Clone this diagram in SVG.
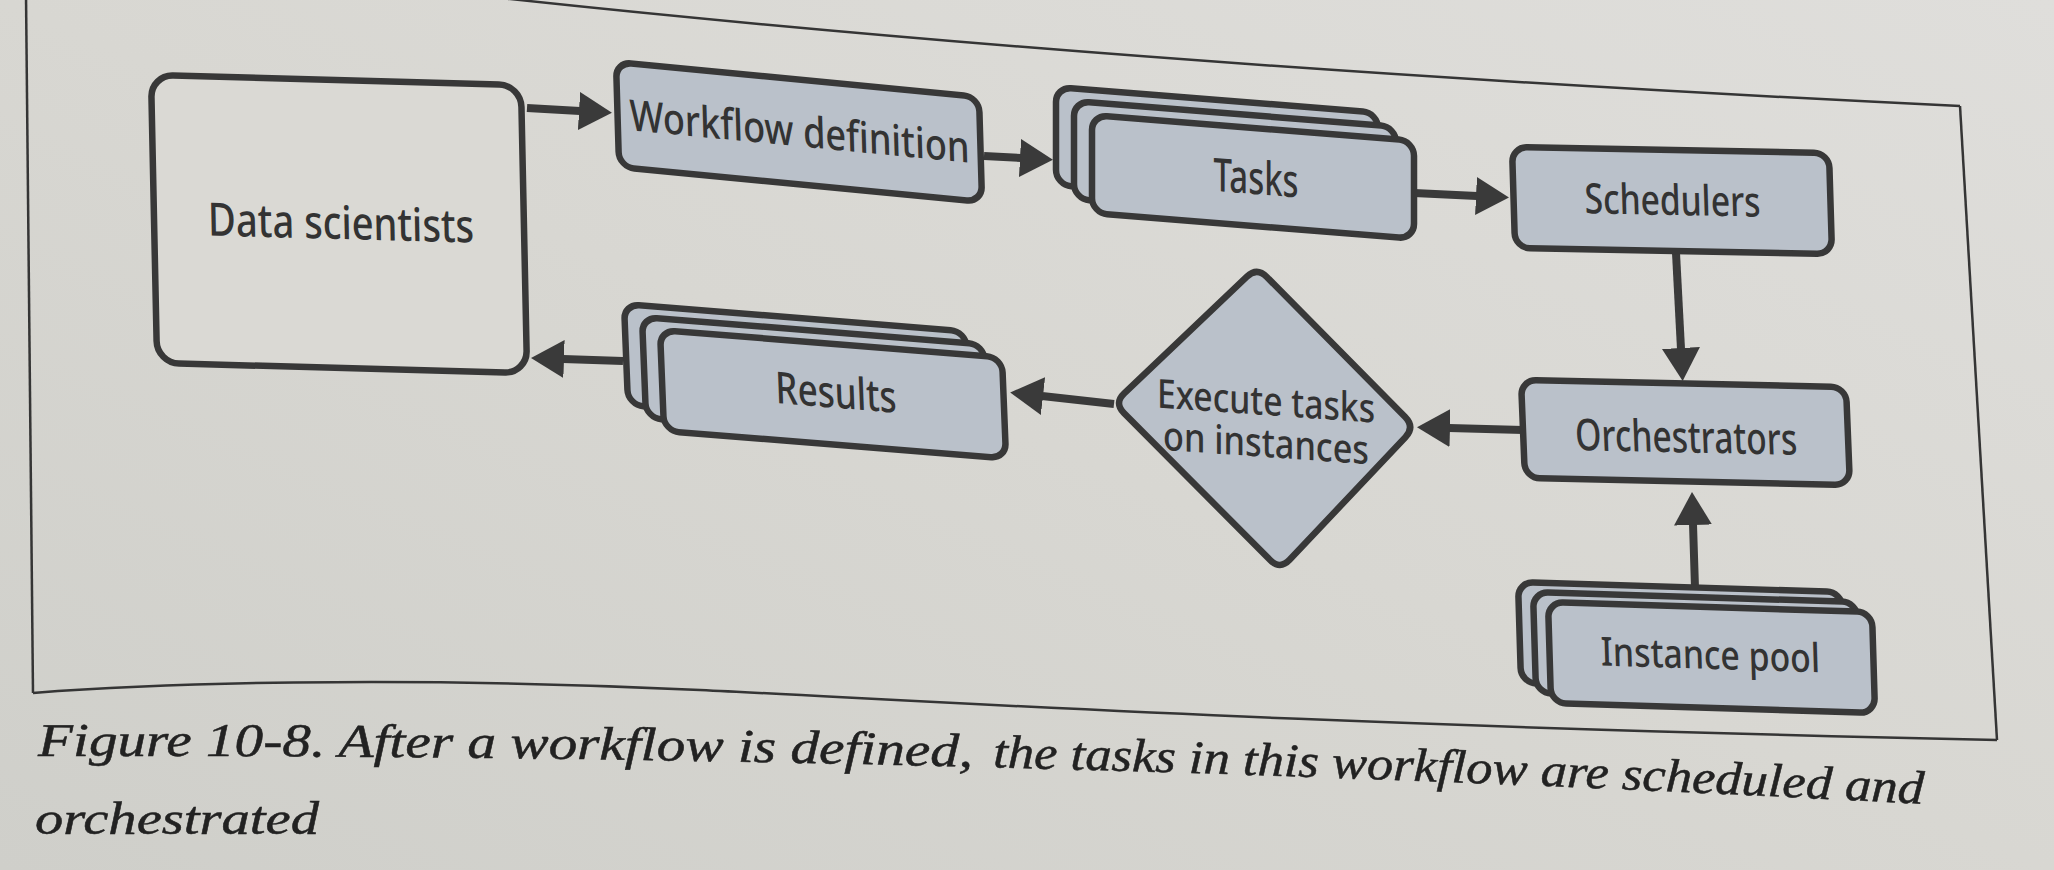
<svg xmlns="http://www.w3.org/2000/svg" width="2054" height="870" viewBox="0 0 2054 870">
<defs>
<linearGradient id="paper" x1="0" y1="1" x2="1" y2="0">
<stop offset="0" stop-color="#cfcfca"/>
<stop offset="0.5" stop-color="#d8d7d2"/>
<stop offset="1" stop-color="#dfdedb"/>
</linearGradient>
<marker id="ah" markerUnits="userSpaceOnUse" markerWidth="36" markerHeight="40" viewBox="0 0 36 40" refX="1" refY="19" orient="auto">
<path d="M0,0 L33,19 L0,38 z" fill="#3a3a3a"/>
</marker>
<path id="capline1" d="M38,756 Q509.5,755 981,767" fill="none"/>
<path id="capline2" d="M981,767 Q1452.5,779 1924,804" fill="none"/>
<style>
.box{fill:#bac1ca;stroke:#383838;stroke-width:6.5}
.plain{fill:#dad9d4;stroke:#383838;stroke-width:6.5}
.lbl{font-family:"Noto Sans","Open Sans",sans-serif;font-weight:500;fill:#333;text-anchor:middle}
.edge{fill:none;stroke:#3a3a3a;stroke-width:8}
.frame{fill:none;stroke:#353535;stroke-width:2.5}
.cap{font-family:"Liberation Serif",serif;font-style:italic;fill:#222;stroke:#222;stroke-width:0.5}
</style>
</defs>
<rect x="0" y="0" width="2054" height="870" fill="url(#paper)"/>

<g id="frame">
<path class="frame" d="M300,-25 Q1000,60 1960,106"/>
<path class="frame" d="M1960,106 L1997,740"/>
<path class="frame" d="M33,693 C200,680 450,678 700,690 S1300,725 1997,740"/>
<path class="frame" d="M26,-5 L33,693"/>
</g>

<g id="connectors">
<path class="edge" marker-end="url(#ah)" d="M527,108 L580,111"/>
<path class="edge" marker-end="url(#ah)" d="M984,156 L1021,158"/>
<path class="edge" marker-end="url(#ah)" d="M1414,193 L1477,196"/>
<path class="edge" marker-end="url(#ah)" d="M1676,253 L1681,349"/>
<path class="edge" marker-end="url(#ah)" d="M1523,430 L1449,428"/>
<path class="edge" marker-end="url(#ah)" d="M1114,404 L1042,396"/>
<path class="edge" marker-end="url(#ah)" d="M1695,588 L1693,524"/>
<path class="edge" marker-end="url(#ah)" d="M623,361 L563,359"/>
</g>

<g id="data-scientists" transform="matrix(1 0.027 0.021 1 151 75)">
<rect class="plain" x="0" y="0" width="370" height="288" rx="22"/>
<text class="lbl" x="187" y="159" font-size="46" textLength="266" lengthAdjust="spacingAndGlyphs">Data scientists</text>
</g>

<g id="workflow-definition" transform="matrix(1 0.096 0.029 1 616 62)">
<rect class="box" x="0" y="0" width="363" height="105" rx="15"/>
<text class="lbl" x="182" y="67" font-size="43" textLength="340" lengthAdjust="spacingAndGlyphs">Workflow definition</text>
</g>

<g id="tasks">
<g transform="matrix(1 0.08 0 1 1056 87)"><rect class="box" x="0" y="0" width="322" height="98" rx="15"/></g>
<g transform="matrix(1 0.08 0 1 1074 101)"><rect class="box" x="0" y="0" width="322" height="98" rx="15"/></g>
<g transform="matrix(1 0.08 0 1 1092 115)"><rect class="box" x="0" y="0" width="322" height="98" rx="15"/>
<text class="lbl" x="164" y="66" font-size="46" textLength="85" lengthAdjust="spacingAndGlyphs">Tasks</text></g>
</g>

<g id="schedulers" transform="matrix(1 0.019 0.03 1 1512 147)">
<rect class="box" x="0" y="0" width="317" height="101" rx="15"/>
<text class="lbl" x="159" y="65" font-size="42" textLength="176" lengthAdjust="spacingAndGlyphs">Schedulers</text>
</g>

<g id="orchestrators" transform="matrix(1 0.0215 0.04 1 1521 380)">
<rect class="box" x="0" y="0" width="325" height="98" rx="15"/>
<text class="lbl" x="163" y="69" font-size="44" textLength="222" lengthAdjust="spacingAndGlyphs">Orchestrators</text>
</g>

<g id="instance-pool">
<g transform="matrix(1 0.031 0.03 1 1518 582)"><rect class="box" x="0" y="0" width="324" height="101" rx="15"/></g>
<g transform="matrix(1 0.031 0.03 1 1533 592)"><rect class="box" x="0" y="0" width="324" height="101" rx="15"/></g>
<g transform="matrix(1 0.031 0.03 1 1548 602)"><rect class="box" x="0" y="0" width="324" height="101" rx="15"/>
<text class="lbl" x="161" y="62" font-size="40" textLength="219" lengthAdjust="spacingAndGlyphs">Instance pool</text></g>
</g>

<g id="execute-tasks">
<path class="box" d="M1266.8,277 L1405.2,417 Q1415,427 1405.4,437.2 L1289.6,559.8 Q1280,570 1270.1,560 L1123.9,413 Q1114,403 1124.2,393.4 L1246.9,276.6 Q1257,267 1266.8,277 Z"/>
<g transform="translate(1266,400) skewY(4)">
<text class="lbl" x="0" y="15" font-size="40" textLength="218" lengthAdjust="spacingAndGlyphs">Execute tasks</text>
<text class="lbl" x="0" y="57" font-size="40" textLength="206" lengthAdjust="spacingAndGlyphs">on instances</text>
</g>
</g>

<g id="results">
<g transform="matrix(1 0.08 0.04 1 624 304)"><rect class="box" x="0" y="0" width="342" height="101" rx="15"/></g>
<g transform="matrix(1 0.08 0.04 1 642 317)"><rect class="box" x="0" y="0" width="342" height="101" rx="15"/></g>
<g transform="matrix(1 0.08 0.04 1 660 330)"><rect class="box" x="0" y="0" width="342" height="101" rx="15"/>
<text class="lbl" x="174" y="64" font-size="44" textLength="121" lengthAdjust="spacingAndGlyphs">Results</text></g>
</g>

<g id="caption">
<text class="cap" font-size="47"><textPath href="#capline1" textLength="935" lengthAdjust="spacingAndGlyphs">Figure 10-8. After a workflow is defined,</textPath></text>
<text class="cap" font-size="47"><textPath href="#capline2" startOffset="12" textLength="931" lengthAdjust="spacingAndGlyphs">the tasks in this workflow are scheduled and</textPath></text>
<text class="cap" x="35" y="834" font-size="47" textLength="284" lengthAdjust="spacingAndGlyphs">orchestrated</text>
</g>
</svg>
